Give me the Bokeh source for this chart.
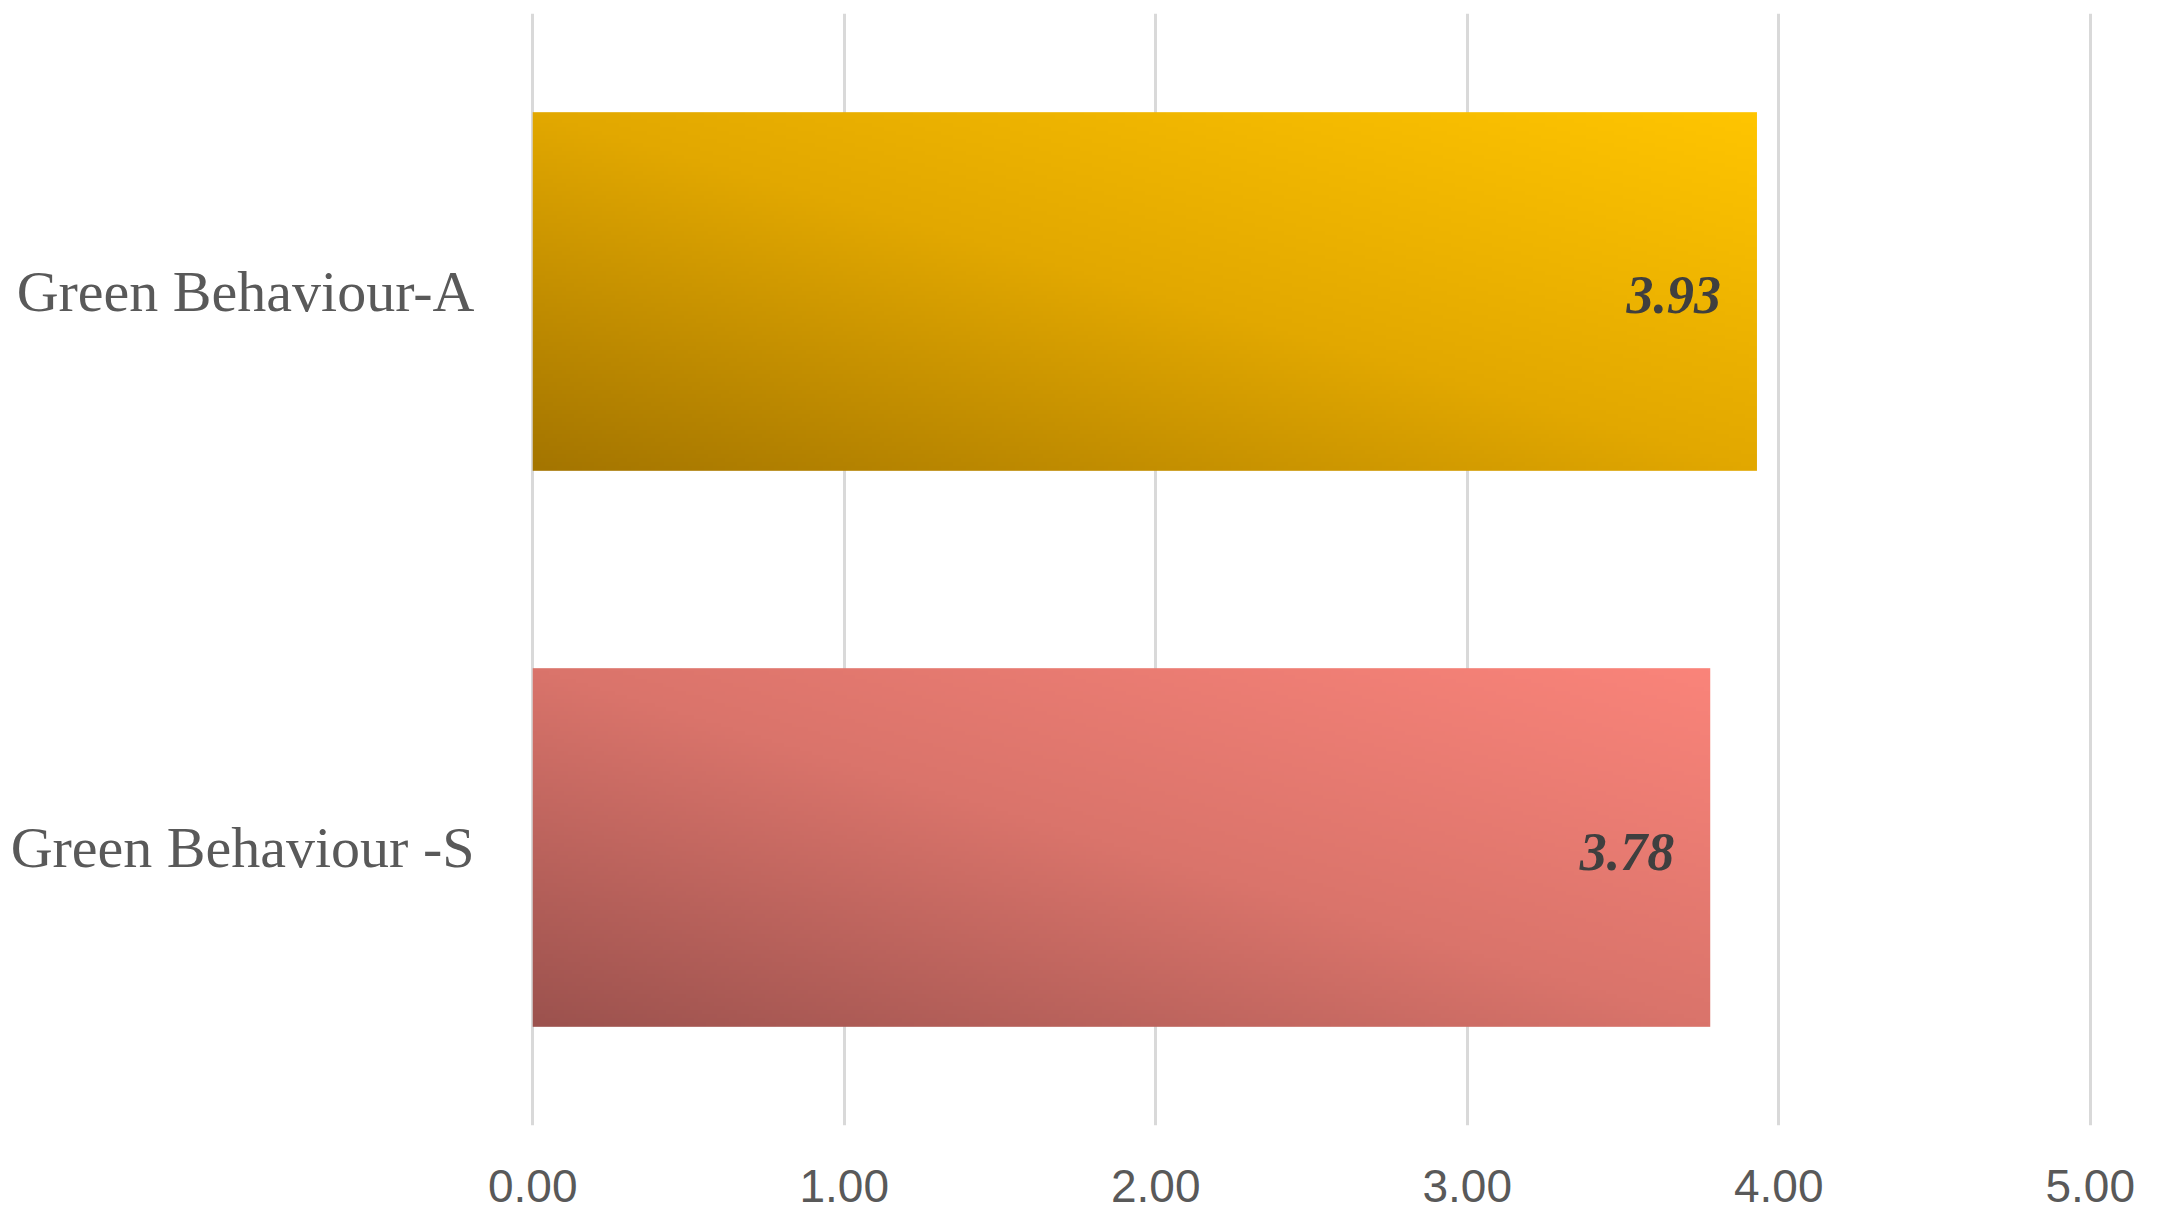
import numpy as np
from bokeh.plotting import figure
from bokeh.models import Range1d, FixedTicker
from bokeh.core.properties import value
from bokeh.embed import file_html
from bokeh.resources import INLINE

# ---- data ----
categories = ["Green Behaviour -S", "Green Behaviour-A"]
scores = [3.78, 3.93]
score_labels = ["3.78", "3.93"]
x_ticks = [0, 1, 2, 3, 4, 5]
x_tick_labels = ["0.00", "1.00", "2.00", "3.00", "4.00", "5.00"]

# gradient colour stops (dark bottom-left, mid, bright top-right)
grad_S = [(156, 82, 78), (218, 116, 107), (250, 132, 122)]
grad_A = [(164, 117, 0), (226, 168, 0), (255, 197, 0)]
grads = [grad_S, grad_A]

bar_h = 0.645

p = figure(width=2150, height=1215, output_backend="svg", toolbar_location=None,
           x_range=Range1d(-0.02, 5.02), y_range=Range1d(-0.5, 1.5),
           min_border_left=526, min_border_right=54, min_border_top=13, min_border_bottom=90)
p.outline_line_color = None
p.background_fill_color = "white"
p.border_fill_color = "white"


def make_grad(stops3, nx=300, ny=90):
    u = np.linspace(0, 1, nx)[None, :]
    v = np.linspace(0, 1, ny)[:, None]
    t = (u + v) / 2.0
    out = np.zeros((ny, nx), dtype=np.uint32)
    view = out.view(dtype=np.uint8).reshape((ny, nx, 4))
    c0, c1, c2 = [np.array(c, dtype=float) for c in stops3]
    tt = t[..., None]
    lower = c0 + (c1 - c0) * (tt / 0.5)
    upper = c1 + (c2 - c1) * ((tt - 0.5) / 0.5)
    col = np.where(tt <= 0.5, lower, upper)
    view[..., 0] = col[..., 0].astype(np.uint8)
    view[..., 1] = col[..., 1].astype(np.uint8)
    view[..., 2] = col[..., 2].astype(np.uint8)
    view[..., 3] = 255
    return out


for i, (cat, val) in enumerate(zip(categories, scores)):
    img = make_grad(grads[i])
    p.image_rgba(image=[img], x=0, y=i - bar_h / 2, dw=val, dh=bar_h)

# value labels
p.text(x=scores, y=[0, 1], text=score_labels, text_align="right", text_baseline="middle",
       x_offset=-36, y_offset=[4, 3],
       text_font=value("Liberation Serif"), text_font_size="54px", text_font_style="bold italic",
       text_color="#3f3f3f")

# grid
p.xgrid.ticker = FixedTicker(ticks=x_ticks)
p.xgrid.grid_line_color = "#d9d9d9"
p.xgrid.grid_line_width = 3
p.ygrid.grid_line_color = None

# x axis
p.xaxis.ticker = FixedTicker(ticks=x_ticks)
p.xaxis.major_label_overrides = {t: l for t, l in zip(x_ticks, x_tick_labels)}
p.xaxis.axis_line_color = None
p.xaxis.major_tick_line_color = None
p.xaxis.minor_tick_line_color = None
p.xaxis.major_label_standoff = 38
p.xaxis.major_label_text_font = "Liberation Sans"
p.xaxis.major_label_text_font_size = "46px"
p.xaxis.major_label_text_color = "#595959"

# y axis
p.yaxis.ticker = FixedTicker(ticks=[0, 1])
p.yaxis.major_label_overrides = {0: categories[0], 1: categories[1]}
p.yaxis.axis_line_color = None
p.yaxis.major_tick_line_color = None
p.yaxis.minor_tick_line_color = None
p.yaxis.major_label_standoff = 46
p.yaxis.major_label_text_font = "Liberation Serif"
p.yaxis.major_label_text_font_size = "58px"
p.yaxis.major_label_text_color = "#595959"

open("out.html", "w").write(file_html(p, INLINE))
